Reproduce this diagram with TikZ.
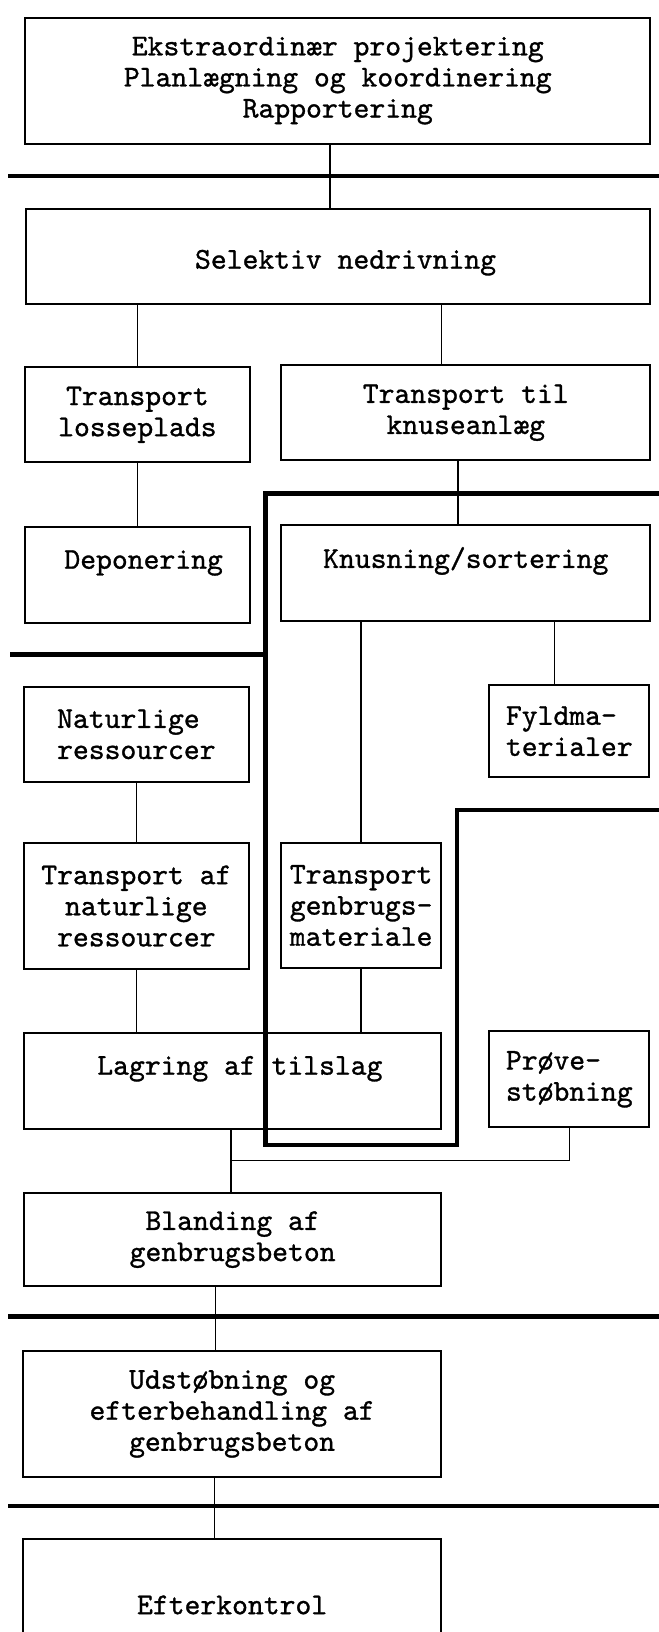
\documentclass[tikz,border=0pt]{standalone}
\usepackage{fontspec}
\setmonofont{lmmono10-regular.otf}[FakeBold=1]

\begin{document}
\begin{tikzpicture}[x=0.02cm, y=-0.02cm,
  font=\ttfamily\fontsize{16.5}{17}\selectfont,
  box/.style={draw, line width=1.1pt, inner sep=0pt, align=center},
  link/.style={line width=0.8pt},
  phase/.style={line width=2.4pt}]

  \useasboundingbox (0,0) rectangle (633,1568);
  \clip (0,0) rectangle (633,1568);

%% =============== Boxes ===============

  % --- Planning and demolition ---
  \node[box, minimum width=12.02cm, minimum height=2.42cm] (plan) at (324.5,77.5)
    {Ekstraordinær projektering\\Planlægning og koordinering\\Rapportering};
  \node[box, minimum width=12cm, minimum height=1.82cm] (selektiv) at (325,246.5)
    {~\\\hspace*{0.28cm}Selektiv nedrivning};

  % --- Transport ---
  \node[box, minimum width=4.32cm, minimum height=1.82cm] (losse) at (132,398.5)
    {Transport\\losseplads};
  \node[box, minimum width=7.1cm, minimum height=1.82cm] (knuse) at (447.5,396.5)
    {Transport til\\knuseanlæg};

  % --- Landfill and crushing ---
  \node[box, minimum width=4.32cm, minimum height=1.86cm] (depon) at (132,552.5)
    {\hspace*{0.24cm}Deponering\\~};
  \node[box, minimum width=7.1cm, minimum height=1.86cm] (knus) at (447.5,550.5)
    {Knusning/sortering\\~};

  % --- Natural resources and fill ---
  \node[box, minimum width=4.32cm, minimum height=1.82cm, align=left] (natur) at (131,705.5)
    {Naturlige\\ressourcer};
  \node[box, minimum width=3.08cm, minimum height=1.78cm, align=left] (fyld) at (547,702.5)
    {Fyldma-\\terialer};

  % --- Transport of aggregates ---
  \node[box, minimum width=4.32cm, minimum height=2.42cm] (transnat) at (131,870.5)
    {Transport af\\naturlige\\ressourcer};
  \node[box, minimum width=3.08cm, minimum height=2.4cm] (transgen) at (347,870)
    {Transport\\genbrugs-\\materiale};

  % --- Storage and test casting ---
  \node[box, minimum width=8.02cm, minimum height=1.86cm] (lagring) at (223.5,1038.5)
    {\hspace*{0.28cm}Lagring af tilslag\\~};
  \node[box, minimum width=3.08cm, minimum height=1.84cm, align=left] (prove) at (547,1037)
    {Prøve-\\støbning};

  % --- Mixing, casting, control ---
  \node[box, minimum width=8.02cm, minimum height=1.8cm] (bland) at (223.5,1191)
    {Blanding af\\genbrugsbeton};
  \node[box, minimum width=8.04cm, minimum height=2.42cm] (udst) at (223,1358.5)
    {Udstøbning og\\efterbehandling af\\genbrugsbeton};
  \node[box, minimum width=8.04cm, minimum height=2.52cm] (eft) at (223,1542)
    {Efterkontrol};

%% =============== Connectors ===============

  \coordinate (join) at (222,1115);

  \draw[link] (plan.south -| 317,0) -- (selektiv.north -| 317,0);
  \draw[link] (selektiv.south -| losse.north) -- (losse.north);
  \draw[link] (selektiv.south -| 424,0) -- (knuse.north -| 424,0);
  \draw[link] (losse.south) -- (depon.north);
  \draw[link] (knuse.south -| 440,0) -- (knus.north -| 440,0);
  \draw[link] (knus.south -| transgen.north) -- (transgen.north);
  \draw[link] (knus.south -| 533,0) -- (fyld.north -| 533,0);
  \draw[link] (natur.south) -- (transnat.north);
  \draw[link] (transnat.south) -- (lagring.north -| transnat.south);
  \draw[link] (transgen.south) -- (lagring.north -| transgen.south);
  \draw[link] (lagring.south -| join) -- (bland.north -| join);
  \draw[link] (prove.south) |- (join);
  \draw[link] (bland.south -| 207,0) -- (udst.north -| 207,0);
  \draw[link] (udst.south -| 206,0) -- (eft.north -| 206,0);

%% =============== Phase borders ===============

  \draw[phase] (8,169) -- (633,169);
  \draw[phase] (633,474) -- (255,474) -- (255,1100) -- (439,1100)
    -- (439,778) -- (633,778);
  \draw[phase] (10,629) -- (255,629);
  \draw[phase] (8,1265) -- (633,1265);
  \draw[phase] (8,1447) -- (633,1447);

\end{tikzpicture}
\end{document}
